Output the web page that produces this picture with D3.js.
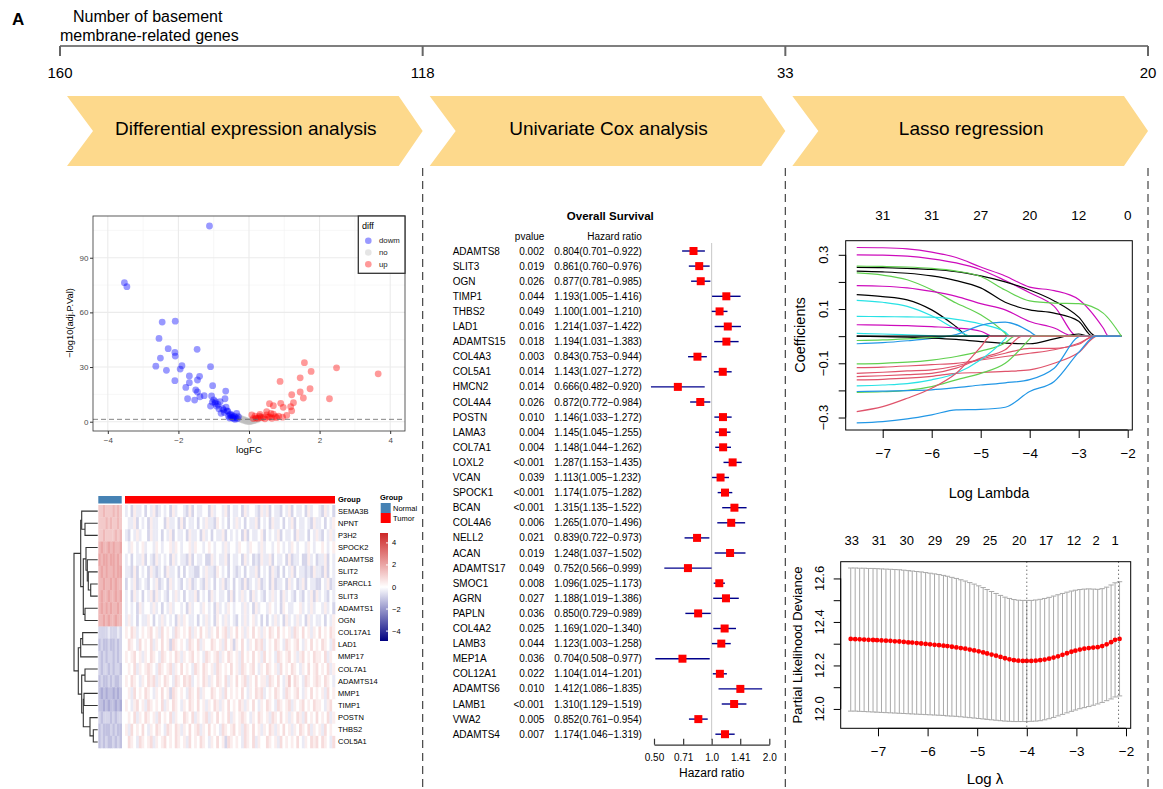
<!DOCTYPE html>
<html><head><meta charset="utf-8">
<script src="https://cdn.jsdelivr.net/npm/d3@7"></script>
<style>body{margin:0;background:#fff} svg{font-family:"Liberation Sans",Arial,sans-serif}</style>
</head><body><svg id="c" width="1163" height="789"></svg>
<script>
// ---------------- DATA ----------------
const stepCounts = ["160","118","33","20"];
const stepNames = ["Differential expression analysis","Univariate Cox analysis","Lasso regression"];

// volcano
const downFC = [-1.12,-3.53,-3.46,-2.46,-2.09,-2.55,-2.29,-1.47,-2.51,-2.10,
 -2.09,-2.64,-2.34,-1.90,-1.95,-1.09,-2.10,-1.69,-1.40,-1.46,
 -1.69,-1.79,-1.03,-1.51,-1.46,-1.74,-1.54,-1.39,-1.27,-1.06,
 -0.66,-0.68,-1.04,-0.96,-1.09,-0.92,-0.82,-0.75,-0.79,-0.60,
 -0.54,-0.35,-0.46,-0.40,-0.55,-0.50,-0.45,-0.42,-0.38,-0.33,
 -0.30,-0.48,-0.52,-0.58,-0.62,-0.70,-0.65,-0.88,-0.85,-0.95,
 -1.00,-0.72];
const downP = [107.4,76.3,74.1,54.7,55.2,45.7,40.1,39.7,34.9,38.0,
 36.0,30.5,28.2,30.7,28.9,30.2,22.5,25.1,24.9,22.9,
 21.4,18.8,19.8,17.4,16.3,12.6,11.9,13.7,14.3,14.1,
 16.8,12.6,10.8,10.1,8.6,8.6,11.0,7.3,4.6,5.7,
 3.7,4.6,2.4,1.3,2.0,2.5,1.8,3.0,2.2,1.6,
 2.8,3.5,4.2,3.0,6.0,5.0,8.0,9.5,7.0,11.0,
 12.0,6.5];
const noFC = [-0.30,-0.25,-0.20,-0.15,-0.10,-0.05,0.00,0.05,0.10,0.15,
 0.20,0.25,0.30,-0.22,-0.12,-0.02,0.08,0.18,0.28,-0.28,
 -0.18,-0.08,0.02,0.12,0.22,-0.06,0.04,0.14,-0.16,0.34];
const noP = [2.5,2.0,1.6,1.2,0.8,0.5,0.3,0.4,0.7,1.0,
 1.3,1.8,2.3,1.2,0.6,0.2,0.4,0.9,1.5,1.8,
 1.0,0.3,0.1,0.5,1.0,0.2,0.2,0.6,0.8,2.6];
const upFC = [3.66,2.48,2.28,1.57,1.76,1.45,0.88,1.73,1.45,1.21,
 1.54,1.26,0.58,0.69,0.90,0.97,1.18,1.21,1.07,0.84,
 0.50,0.31,0.69,0.59,0.41,0.17,0.08,0.25,0.35,0.45,
 0.55,0.65,0.75,0.20,0.12,0.30,0.50,0.62,0.78,0.95];
const upP = [26.3,29.6,12.6,32.4,27.6,24.1,22.1,18.1,16.3,14.8,
 13.0,10.4,9.9,8.8,10.1,7.9,8.2,6.0,3.5,3.1,
 5.5,4.0,4.2,2.7,2.4,3.1,3.7,1.8,2.2,1.6,
 2.5,1.9,2.8,2.0,1.7,3.0,3.8,4.5,2.2,2.5];
const volcGroups = ["dowm","no","up"];
const volcXTicks = [-4,-2,0,2,4];
const volcYTicks = [0,30,60,90];

// heatmap
const hmGenes = ["SEMA3B","NPNT","P3H2","SPOCK2","ADAMTS8","SLIT2","SPARCL1","SLIT3","ADAMTS1","OGN",
 "COL17A1","LAD1","MMP17","COL7A1","ADAMTS14","MMP1","TIMP1","POSTN","THBS2","COL5A1"];
const hmCode = "0123456789ABCDE"; // value = (index-5)*0.4
const hmNormal = ["8898889898","8889898898","8898888989","9A99A9A99A","A9AA9AA9A9",
 "9A9A99A9AA","99A99A9A99","9A99A99A9A","9A9A9A99A9","99A9A99A99",
 "3333433343","2322322323","3232332323","3233232332","2322323223",
 "2121221212","2212122121","3233323233","2322232322","2323223232"];
const hmTumor = [
 "4536445354634545364554363544553645546354453645543646354435463544536455436453",
 "5446354536445536445363544535464436545354645354463545364453546354454364453546",
 "4354645536445354635445364453645354463545453635445635454635445364453546435464",
 "5465456455465455646545564655456545546455465546554645545654546545546545565456",
 "4535446354364545364544363544533645446354453645343644635445363445336453446354",
 "4436354536434536445353544335464436545354345354463545364353546354434364436354",
 "3546345435463453645435463454364535463453543634546345363445364534635443354634",
 "4536453546364543546453544635453645445363546453645435464536454354354636454354",
 "4545364554645354645545364554654536454654554645364554654536544556454645546453",
 "4645354465354645453646544535464536546454354645645353546453645464536454453546",
 "6576456567564756547656574657564657567465756465756465765756564765756465756576",
 "5765475657465756376565476574655765647563657546576745657654765675465756576547",
 "6567564657654765657646567565476567465765647565756475654765675646756576657465",
 "5657465676547656746575654765765647656575647656754657656475657654657567565746",
 "6576546576746576547657674565764657657465756746575664765754685765476567657654",
 "5647565765465756376565476574655765647565657546576745657654765675465756564756",
 "6546756476565746576546576575646576465756576465754657654765674656756576654675",
 "5657465765647565746557657465674657565746567654657656476575646576475657565746",
 "6475657546576547657646575674657565476567564765756465764657564657657465647565",
 "5765476567465675657656475657654657563765654765746557656475656575465767576547"];
// dendrogram: [left, right, height]
const hmTree = [
 [[0,[1,2,12.7],16],[[3,[4,[5,[6,7,7],9.4],10.4],11.7],[8,9,12.7],14.4],17],
 [[[10,11,15],12,17],[[13,14,12.7],[[15,16,13.7],[17,[18,19,4.4],7.7],14.4],16],19.4],
 23.7];
const hmLegendTicks = [4,2,0,-2,-4];
const hmGroups = ["Normal","Tumor"];

// forest
const coxGenes = ["ADAMTS8","SLIT3","OGN","TIMP1","THBS2","LAD1","ADAMTS15","COL4A3","COL5A1","HMCN2",
 "COL4A4","POSTN","LAMA3","COL7A1","LOXL2","VCAN","SPOCK1","BCAN","COL4A6","NELL2",
 "ACAN","ADAMTS17","SMOC1","AGRN","PAPLN","COL4A2","LAMB3","MEP1A","COL12A1","ADAMTS6",
 "LAMB1","VWA2","ADAMTS4"];
const coxP = ["0.002","0.019","0.026","0.044","0.049","0.016","0.018","0.003","0.014","0.014",
 "0.026","0.010","0.004","0.004","<0.001","0.039","<0.001","<0.001","0.006","0.021",
 "0.019","0.049","0.008","0.027","0.036","0.025","0.044","0.036","0.022","0.010",
 "<0.001","0.005","0.007"];
const coxHR = [0.804,0.861,0.877,1.193,1.100,1.214,1.194,0.843,1.143,0.666,
 0.872,1.146,1.145,1.148,1.287,1.113,1.174,1.315,1.265,0.839,
 1.248,0.752,1.096,1.188,0.850,1.169,1.123,0.704,1.104,1.412,
 1.310,0.852,1.174];
const coxLo = [0.701,0.760,0.781,1.005,1.001,1.037,1.031,0.753,1.027,0.482,
 0.772,1.033,1.045,1.044,1.153,1.005,1.075,1.135,1.070,0.722,
 1.037,0.566,1.025,1.019,0.729,1.020,1.003,0.508,1.014,1.086,
 1.129,0.761,1.046];
const coxHi = [0.922,0.976,0.985,1.416,1.210,1.422,1.383,0.944,1.272,0.920,
 0.984,1.272,1.255,1.262,1.435,1.232,1.282,1.522,1.496,0.973,
 1.502,0.999,1.173,1.386,0.989,1.340,1.258,0.977,1.201,1.835,
 1.519,0.954,1.319];
const coxTicks = [0.5,0.71,1.0,1.41,2.0];
const coxTickLabels = ["0.50","0.71","1.0","1.41","2.0"];

// lasso coefficient paths (values at knots until the variable leaves, then 0)
const lassoKnots = [-7.53,-7,-6.5,-6,-5.5,-5,-4.5,-4,-3.5,-3,-2.5];
const lassoEnd = -2.13;
const lassoPaths = [
 [0.327,0.326,0.322,0.31,0.29,0.255,0.222,0.181,0.168,0.135,0.03],
 [0.300,0.299,0.295,0.285,0.27,0.245,0.205,0.16,0.11],
 [0.254,0.253,0.25,0.246,0.238,0.222,0.2,0.17,0.13,0.07],
 [0.24,0.237,0.232,0.222,0.205,0.178,0.125,0.097,0.085,0.055],
 [0.233,0.225,0.208,0.171,0.122,0.079,0.01],
 [0.186,0.184,0.178,0.165,0.147,0.12,0.097,0.054,0.03],
 [0.153,0.146,0.134,0.097,0.035],
 [0.132,0.125,0.11,0.075,0.025],
 [0.073,0.072,0.071,0.07,0.062,0.045,0.015],
 [0.042,0.041,0.039,0.035,0.03,0.018],
 [-0.028,-0.024,-0.017,-0.008,0.006,0.04,0.052,0.017],
 [0,-0.002,-0.004,-0.007,-0.012,-0.02,-0.026,-0.028,-0.01,0.008],
 [-0.016,-0.014,-0.01,-0.005],
 [0.01,0.008,0.005,0.002],
 [0],
 [-0.102,-0.1,-0.096,-0.088,-0.075,-0.055,-0.025],
 [-0.116,-0.114,-0.11,-0.105,-0.1,-0.088,-0.075,-0.063,-0.05,-0.026],
 [-0.137,-0.133,-0.128,-0.124,-0.11,-0.085,-0.063,-0.045,-0.045,-0.03],
 [-0.149,-0.146,-0.142,-0.137,-0.118,-0.081,-0.05],
 [-0.161,-0.159,-0.155,-0.148,-0.137,-0.134,-0.13,-0.124,-0.1,-0.06],
 [-0.183,-0.18,-0.175,-0.161,-0.137,-0.087,-0.01],
 [-0.207,-0.205,-0.2,-0.186,-0.161,-0.137,-0.1,-0.01],
 [-0.204,-0.203,-0.201,-0.198,-0.19,-0.18,-0.172,-0.16,-0.118],
 [-0.278,-0.26,-0.229,-0.192,-0.137,-0.04],
 [-0.32,-0.315,-0.305,-0.29,-0.272,-0.27,-0.262,-0.204,-0.167,-0.06],
 [0.258,0.257,0.255,0.25,0.24,0.22,0.17,0.13,0.122,0.12,0.085]];
const lassoZeroAt = [-2.39,-3.02,-2.65,-2.72,-4.45,-3.1,-5.25,-5.2,-4.4,-4.75,
 -3.85,-2.8,-5.6,-5.8,-7.53,-4.3,-2.65,-2.7,-4.15,-2.62,
 -4.45,-3.95,-2.95,-4.8,-2.65,-2.13];
const lassoColors = ["#CD0BBC","#CD0BBC","#000000","#000000","#61D04F","#CD0BBC","#000000","#28E2E5","#28E2E5","#CD0BBC",
 "#2297E6","#000000","#61D04F","#28E2E5","#000000","#61D04F","#DF536B","#DF536B","#DF536B","#DF536B",
 "#28E2E5","#61D04F","#2297E6","#DF536B","#2297E6","#61D04F"];
const lassoTopAt = [-7,-6,-5,-4,-3,-2];
const lassoTopLabels = ["31","31","27","20","12","0"];

// cross-validation
const cvLogLambda = [-7.55,-7.46,-7.37,-7.28,-7.19,-7.10,-7.02,-6.93,-6.84,-6.75,
 -6.66,-6.57,-6.48,-6.39,-6.31,-6.22,-6.13,-6.04,-5.95,-5.86,
 -5.77,-5.68,-5.60,-5.51,-5.42,-5.33,-5.24,-5.15,-5.06,-4.97,
 -4.88,-4.80,-4.71,-4.62,-4.53,-4.44,-4.35,-4.26,-4.17,-4.08,
 -4.00,-3.91,-3.82,-3.73,-3.64,-3.55,-3.46,-3.37,-3.28,-3.19,
 -3.10,-3.02,-2.93,-2.84,-2.75,-2.66,-2.57,-2.48,-2.39,-2.30,
 -2.22,-2.13];
const cvMean = [12.322,12.321,12.320,12.319,12.318,12.317,12.316,12.315,12.314,12.313,
 12.311,12.310,12.308,12.306,12.305,12.303,12.301,12.299,12.297,12.295,
 12.293,12.291,12.289,12.286,12.283,12.280,12.277,12.273,12.269,12.265,
 12.260,12.255,12.250,12.245,12.239,12.233,12.228,12.224,12.222,12.221,
 12.221,12.221,12.222,12.224,12.227,12.231,12.236,12.242,12.249,12.256,
 12.263,12.268,12.273,12.277,12.280,12.282,12.284,12.289,12.297,12.307,
 12.318,12.322];
const cvUpper = [12.648,12.648,12.647,12.647,12.646,12.646,12.645,12.644,12.643,12.642,
 12.641,12.640,12.638,12.636,12.634,12.632,12.630,12.627,12.624,12.621,
 12.618,12.614,12.610,12.605,12.600,12.594,12.588,12.581,12.574,12.566,
 12.558,12.549,12.540,12.531,12.522,12.514,12.508,12.503,12.500,12.499,
 12.499,12.499,12.501,12.504,12.508,12.513,12.519,12.525,12.531,12.537,
 12.542,12.546,12.549,12.551,12.552,12.551,12.550,12.553,12.560,12.570,
 12.580,12.585];
const cvLower = [11.990,11.990,11.989,11.988,11.987,11.986,11.985,11.984,11.983,11.982,
 11.981,11.980,11.979,11.978,11.977,11.976,11.975,11.974,11.973,11.972,
 11.971,11.970,11.968,11.967,11.966,11.964,11.962,11.960,11.958,11.956,
 11.954,11.952,11.950,11.948,11.946,11.944,11.943,11.942,11.942,11.942,
 11.942,11.943,11.944,11.946,11.950,11.955,11.961,11.968,11.975,11.982,
 11.989,11.995,12.001,12.006,12.011,12.017,12.023,12.030,12.038,12.046,
 12.055,12.060];
const cvLambdaMin = -4.0, cvLambda1se = -2.15;
const cvTopAt = [-7.53,-6.98,-6.42,-5.85,-5.29,-4.74,-4.15,-3.61,-3.05,-2.6,-2.22];
const cvTopLabels = ["33","31","30","29","29","25","20","17","12","2","1"];

// ---------------- DRAW ----------------
const svg = d3.select("#c");
function txt(g,x,y,s,opt={}){
  const t=g.append("text").attr("x",x).attr("y",y).text(s)
    .attr("font-size",opt.size||10).attr("fill",opt.fill||"#000")
    .attr("text-anchor",opt.anchor||"start").attr("dominant-baseline",opt.base||"central");
  if(opt.bold) t.attr("font-weight","bold");
  if(opt.rot!==undefined) t.attr("transform",`rotate(${opt.rot},${x},${y})`);
  return t;
}

// ---- header ----
txt(svg,12,19,"A",{size:17,bold:true});
txt(svg,73,16,"Number of basement",{size:16});
txt(svg,60,35,"membrane-related genes",{size:16});
const sx = d3.scalePoint().domain(stepCounts).range([60,1148]);
const hdr = svg.append("g").attr("transform","translate(0,46)");
hdr.append("line").attr("x1",60).attr("x2",1148).attr("stroke","#000").attr("stroke-width",1.2);
stepCounts.forEach(c=>{
  hdr.append("line").attr("x1",sx(c)).attr("x2",sx(c)).attr("y1",0).attr("y2",10).attr("stroke","#666").attr("stroke-width",2);
  txt(hdr,sx(c),26,c,{size:15,anchor:"middle"});
});
stepNames.forEach((n,i)=>{
  const x0=sx(stepCounts[i])+7, x1=sx(stepCounts[i+1]), top=96, bot=166, mid=(top+bot)/2;
  svg.append("path").attr("d",`M${x0},${top}L${x1-24},${top}L${x1},${mid}L${x1-24},${bot}L${x0},${bot}L${x0+26},${mid}Z`)
    .attr("fill","#FDD98C");
  txt(svg,(x0+x1)/2+1,mid-3,n,{size:19,anchor:"middle"});
});
[1,2,3].forEach(i=>{
  svg.append("line").attr("x1",sx(stepCounts[i])).attr("x2",sx(stepCounts[i])).attr("y1",168).attr("y2",789)
    .attr("stroke","#444").attr("stroke-width",1.2).attr("stroke-dasharray","8,5");
});

// ---- volcano ----
const vx = d3.scaleLinear().domain([-4.42,4.42]).range([93,405]);
const vy = d3.scaleLinear().domain([-5.1,112.9]).range([431,216]);
const vg = svg.append("g");
[-3,-1,1,3].forEach(v=>vg.append("line").attr("x1",vx(v)).attr("x2",vx(v)).attr("y1",216).attr("y2",431).attr("stroke","#F2F2F2").attr("stroke-width",0.6));
[15,45,75,105].forEach(v=>vg.append("line").attr("y1",vy(v)).attr("y2",vy(v)).attr("x1",93).attr("x2",405).attr("stroke","#F2F2F2").attr("stroke-width",0.6));
volcXTicks.forEach(v=>vg.append("line").attr("x1",vx(v)).attr("x2",vx(v)).attr("y1",216).attr("y2",431).attr("stroke","#EBEBEB").attr("stroke-width",1.1));
volcYTicks.forEach(v=>vg.append("line").attr("y1",vy(v)).attr("y2",vy(v)).attr("x1",93).attr("x2",405).attr("stroke","#EBEBEB").attr("stroke-width",1.1));
const volcData = [
  {g:"no",fc:noFC,p:noP,c:"#BEBEBE"},
  {g:"dowm",fc:downFC,p:downP,c:"#0000FF"},
  {g:"up",fc:upFC,p:upP,c:"#FF0000"}];
volcData.forEach(s=>{
  vg.selectAll(null).data(s.fc).enter().append("circle")
    .attr("cx",d=>vx(d)).attr("cy",(d,i)=>vy(s.p[i])).attr("r",3.4)
    .attr("fill",s.c).attr("fill-opacity",0.4);
});
vg.append("line").attr("x1",93).attr("x2",405).attr("y1",vy(1.3)).attr("y2",vy(1.3))
  .attr("stroke","#666").attr("stroke-width",0.8).attr("stroke-dasharray","5,3");
vg.append("rect").attr("x",93).attr("y",216).attr("width",312).attr("height",215).attr("fill","none").attr("stroke","#333").attr("stroke-width",0.8);
const vax = vg.append("g").attr("transform","translate(0,431)").call(d3.axisBottom(vx).tickValues(volcXTicks).tickSize(3).tickSizeOuter(0));
vax.select(".domain").remove();
vax.selectAll("text").attr("font-size",8).attr("fill","#4D4D4D").attr("font-family",'"Liberation Sans",Arial');
vax.selectAll("line").attr("stroke","#333");
const vay = vg.append("g").attr("transform","translate(93,0)").call(d3.axisLeft(vy).tickValues(volcYTicks).tickSize(3).tickPadding(1.5).tickSizeOuter(0));
vay.select(".domain").remove();
vay.selectAll("text").attr("font-size",8).attr("fill","#4D4D4D").attr("font-family",'"Liberation Sans",Arial');
vay.selectAll("line").attr("stroke","#333");
txt(vg,249,449,"logFC",{size:9.7,anchor:"middle"});
txt(vg,70,323,"\u2212log10(adj.P.Val)",{size:9.3,anchor:"middle",rot:-90});
// legend
vg.append("rect").attr("x",358.3).attr("y",216).attr("width",46.7).attr("height",57.3).attr("fill","#fff").attr("stroke","#333").attr("stroke-width",1.3);
txt(vg,362,226,"diff",{size:9});
const legCol = {"dowm":"#0000FF","no":"#BEBEBE","up":"#FF0000"};
volcGroups.forEach((g,i)=>{
  const y=240.7+i*11.8;
  vg.append("circle").attr("cx",368.3).attr("cy",y).attr("r",3.3).attr("fill",legCol[g]).attr("fill-opacity",0.4);
  txt(vg,379,y,g,{size:7.8,fill:"#222"});
});

// ---- heatmap ----
const hg = svg.append("g");
const hy = d3.scaleBand().domain(hmGenes).range([505,748]);
const hcol = d3.scaleLinear().domain([-4.9,0,4.9]).range(["#000080","#FFFFFF","#CD2626"]);
const nX0=98.3, nX1=121.7, tX0=125, tX1=335;
hmGenes.forEach((gname,r)=>{
  const ns=hmNormal[r], ts=hmTumor[r];
  const nw=(nX1-nX0)/ns.length, tw=(tX1-tX0)/ts.length;
  for(let j=0;j<ns.length;j++){
    hg.append("rect").attr("x",nX0+j*nw).attr("y",hy(gname)).attr("width",nw+0.3).attr("height",hy.bandwidth()+0.3)
      .attr("fill",hcol((hmCode.indexOf(ns[j])-5)*0.4));
  }
  for(let j=0;j<ts.length;j++){
    hg.append("rect").attr("x",tX0+j*tw).attr("y",hy(gname)).attr("width",tw+0.3).attr("height",hy.bandwidth()+0.3)
      .attr("fill",hcol((hmCode.indexOf(ts[j])-5)*0.4));
  }
  txt(hg,338,hy(gname)+hy.bandwidth()/2,gname,{size:7.5});
});
hg.append("rect").attr("x",nX0).attr("y",496).attr("width",nX1-nX0).attr("height",7.5).attr("fill","#4682B4");
hg.append("rect").attr("x",tX0).attr("y",496).attr("width",tX1-tX0).attr("height",7.5).attr("fill","#FF0000");
txt(hg,338,499.7,"Group",{size:7.5,bold:true});
// dendrogram
const dx = d3.scaleLinear().domain([0,23.7]).range([97.7,74]);
function dendro(node){
  if(typeof node==="number") return {y:hy(hmGenes[node])+hy.bandwidth()/2,h:0};
  const a=dendro(node[0]), b=dendro(node[1]), h=node[2];
  hg.append("path").attr("d",`M${dx(a.h)},${a.y}H${dx(h)}V${b.y}H${dx(b.h)}`)
    .attr("fill","none").attr("stroke","#333").attr("stroke-width",1.1);
  return {y:(a.y+b.y)/2,h:h};
}
dendro(hmTree);
// legends
txt(hg,380,497,"Group",{size:7.5,bold:true});
const grpCol={"Normal":"#4682B4","Tumor":"#FF0000"};
hmGroups.forEach((g,i)=>{
  hg.append("rect").attr("x",380.7).attr("y",503+i*10).attr("width",10).attr("height",10).attr("fill",grpCol[g]);
  txt(hg,393,508+i*10,g,{size:7.5});
});
const lgy = d3.scaleLinear().domain([-4.9,4.9]).range([641,533]);
const defs = svg.append("defs");
const grad = defs.append("linearGradient").attr("id","hmg").attr("x1",0).attr("x2",0).attr("y1",1).attr("y2",0);
[-4.9,0,4.9].forEach((v,i)=>grad.append("stop").attr("offset",i/2).attr("stop-color",hcol(v)));
hg.append("rect").attr("x",380).attr("y",533).attr("width",8).attr("height",108).attr("fill","url(#hmg)");
hmLegendTicks.forEach(v=>{
  hg.append("line").attr("x1",386).attr("x2",388).attr("y1",lgy(v)).attr("y2",lgy(v)).attr("stroke","#fff");
  txt(hg,392,lgy(v),v<0?"\u2212"+(-v):String(v),{size:7.5});
});

// ---- forest ----
const fg = svg.append("g");
const fy = d3.scaleBand().domain(coxGenes).range([243.45,741.75]);
const fx = d3.scaleLog().base(2).domain([0.5,2]).range([654,769.3]);
txt(fg,610.3,216,"Overall Survival",{size:11.5,bold:true,anchor:"middle"});
txt(fg,544.3,236,"pvalue",{size:10,anchor:"end"});
txt(fg,641.7,236,"Hazard ratio",{size:10,anchor:"end"});
fg.append("line").attr("x1",fx(1)).attr("x2",fx(1)).attr("y1",243).attr("y2",740).attr("stroke","#C8C8C8").attr("stroke-width",1);
coxGenes.forEach((g,i)=>{
  const y=fy(g)+fy.bandwidth()/2;
  txt(fg,452.7,y,g,{size:10});
  txt(fg,544.3,y,coxP[i],{size:10,anchor:"end"});
  txt(fg,554.3,y,`${coxHR[i].toFixed(3)}(${coxLo[i].toFixed(3)}\u2212${coxHi[i].toFixed(3)})`,{size:10});
  fg.append("line").attr("x1",fx(coxLo[i])).attr("x2",fx(coxHi[i])).attr("y1",y).attr("y2",y).attr("stroke","#00008B").attr("stroke-width",1.4);
  fg.append("rect").attr("x",fx(coxHR[i])-4).attr("y",y-4).attr("width",8).attr("height",8).attr("fill","#FF0000");
});
const fax = fg.append("g").attr("transform","translate(0,744.7)")
  .call(d3.axisBottom(fx).tickValues(coxTicks).tickFormat((d,i)=>coxTickLabels[i]).tickSize(-6).tickSizeOuter(0).tickPadding(9));
fax.selectAll("text").attr("font-size",10).attr("font-family",'"Liberation Sans",Arial').attr("fill","#000");
fax.selectAll("line,path").attr("stroke","#333").attr("stroke-width",1.2);
txt(fg,711.7,773,"Hazard ratio",{size:12,anchor:"middle"});

// ---- lasso paths ----
const lg = svg.append("g");
const lx = d3.scaleLinear().domain([-7.755,-1.906]).range([845.7,1132.3]);
const ly = d3.scaleLinear().domain([-0.346,0.352]).range([430,240.7]);
const lline = d3.line().x(d=>lx(d[0])).y(d=>ly(d[1])).curve(d3.curveMonotoneX);
lassoPaths.forEach((vals,k)=>{
  const z=lassoZeroAt[k];
  const pts=[];
  vals.forEach((v,i)=>{ if(lassoKnots[i]<z-0.01) pts.push([lassoKnots[i],v]); });
  pts.push([z,0]);
  if(z<lassoEnd) pts.push([lassoEnd,0]);
  lg.append("path").attr("d",lline(pts)).attr("fill","none").attr("stroke",lassoColors[k]).attr("stroke-width",1.2);
});
lg.append("rect").attr("x",845.7).attr("y",240.7).attr("width",286.6).attr("height",189.3).attr("fill","none").attr("stroke","#000").attr("stroke-width",1);
const lxa = lg.append("g").attr("transform","translate(0,430)").call(d3.axisBottom(lx).tickValues([-7,-6,-5,-4,-3,-2]).tickSize(8).tickSizeOuter(0).tickPadding(10).tickFormat(d=>"\u2212"+(-d)));
lxa.select(".domain").attr("d",`M${lx(-7)},0H${lx(-2)}`);
lxa.selectAll("text").attr("font-size",13.5).attr("font-family",'"Liberation Sans",Arial');
const lya = lg.append("g").attr("transform","translate(845.7,0)").call(d3.axisLeft(ly).tickValues([-0.3,-0.2,-0.1,0,0.1,0.2,0.3]).tickSize(7).tickSizeOuter(0).tickFormat(""));
lya.select(".domain").attr("d",`M0,${ly(-0.3)}V${ly(0.3)}`);
[-0.3,-0.1,0.1,0.3].forEach(v=>txt(lg,824,ly(v),(v<0?"\u2212":"")+Math.abs(v).toFixed(1),{size:13,anchor:"middle",rot:-90}));
lassoTopAt.forEach((v,i)=>txt(lg,lx(v),215,lassoTopLabels[i],{size:13.5,anchor:"middle"}));
txt(lg,989,493,"Log Lambda",{size:14.5,anchor:"middle"});
txt(lg,800,335,"Coefficients",{size:14.5,anchor:"middle",rot:-90});

// ---- CV ----
const cg = svg.append("g");
const cx = d3.scaleLinear().domain([-7.752,-1.905]).range([840.7,1130.7]);
const cy = d3.scaleLinear().domain([11.911,12.677]).range([728.3,561.7]);
const bw=0.054;
cvLogLambda.forEach((l,i)=>{
  cg.append("line").attr("x1",cx(l)).attr("x2",cx(l)).attr("y1",cy(cvLower[i])).attr("y2",cy(cvUpper[i])).attr("stroke","#A9A9A9").attr("stroke-width",1);
  cg.append("line").attr("x1",cx(l-bw)).attr("x2",cx(l+bw)).attr("y1",cy(cvUpper[i])).attr("y2",cy(cvUpper[i])).attr("stroke","#A9A9A9").attr("stroke-width",1);
  cg.append("line").attr("x1",cx(l-bw)).attr("x2",cx(l+bw)).attr("y1",cy(cvLower[i])).attr("y2",cy(cvLower[i])).attr("stroke","#A9A9A9").attr("stroke-width",1);
});
cg.selectAll(null).data(cvLogLambda).enter().append("circle").attr("cx",d=>cx(d)).attr("cy",(d,i)=>cy(cvMean[i])).attr("r",2.4).attr("fill","#FF0000");
[cvLambdaMin,cvLambda1se].forEach(v=>cg.append("line").attr("x1",cx(v)).attr("x2",cx(v)).attr("y1",561.7).attr("y2",728.3).attr("stroke","#333").attr("stroke-width",1).attr("stroke-dasharray","1,3"));
cg.append("rect").attr("x",840.7).attr("y",561.7).attr("width",290).attr("height",166.6).attr("fill","none").attr("stroke","#000").attr("stroke-width",1);
const cxa = cg.append("g").attr("transform","translate(0,728.3)").call(d3.axisBottom(cx).tickValues([-7,-6,-5,-4,-3,-2]).tickSize(8).tickSizeOuter(0).tickPadding(10).tickFormat(d=>"\u2212"+(-d)));
cxa.select(".domain").attr("d",`M${cx(-7)},0H${cx(-2)}`);
cxa.selectAll("text").attr("font-size",13.5).attr("font-family",'"Liberation Sans",Arial');
const cya = cg.append("g").attr("transform","translate(840.7,0)").call(d3.axisLeft(cy).tickValues([12.0,12.1,12.2,12.3,12.4,12.5,12.6]).tickSize(7).tickSizeOuter(0).tickFormat(""));
cya.select(".domain").attr("d",`M0,${cy(12.0)}V${cy(12.6)}`);
[12.0,12.2,12.4,12.6].forEach(v=>txt(cg,820,cy(v),v.toFixed(1),{size:13,anchor:"middle",rot:-90}));
cvTopAt.forEach((v,i)=>txt(cg,cx(v),540,cvTopLabels[i],{size:13,anchor:"middle"}));
txt(cg,985,778,"Log \u03bb",{size:15,anchor:"middle"});
txt(cg,797,645,"Partial Likelihood Deviance",{size:13,anchor:"middle",rot:-90});
</script></body></html>
